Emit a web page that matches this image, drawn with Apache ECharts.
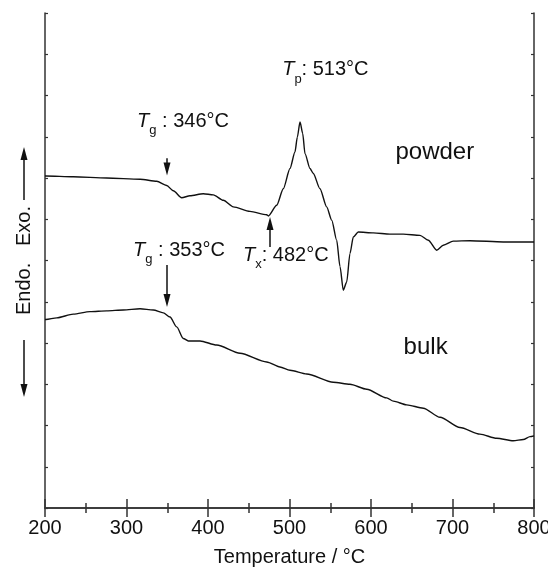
<!DOCTYPE html>
<html>
<head>
<meta charset="utf-8">
<script src="https://cdn.jsdelivr.net/npm/echarts@6/dist/echarts.min.js"></script>
<style>
html,body{margin:0;padding:0;background:#fff;}
#main{width:548px;height:570px;}
</style>
</head>
<body>
<div id="main"></div>
<script>
// ---- data ----
const xTicks = [200, 300, 400, 500, 600, 700, 800];
const powderT = [200, 201.2, 234.7, 275.7, 316.6, 337.1, 349.3, 357.4, 367.7, 377.9, 394.2, 406.5, 418.8, 431.0, 451.5, 472.0, 474.0, 484.3, 492.4, 500.6, 506.7, 509.6, 512.9, 516.2, 519.0, 525.2, 529.2, 537.4, 545.6, 551.8, 557.9, 562.0, 566.0, 570.2, 574.2, 578.3, 584.4, 602.8, 623.3, 639.6, 660.1, 670.3, 680.6, 688.7, 701.0, 721.5, 762.3, 800];
const powderV = [8.05, 8.05, 8.03, 8.00, 7.97, 7.92, 7.82, 7.69, 7.52, 7.57, 7.62, 7.59, 7.46, 7.30, 7.19, 7.11, 7.08, 7.34, 7.74, 8.23, 8.63, 8.99, 9.36, 9.08, 8.59, 8.23, 8.11, 7.74, 7.30, 6.98, 6.49, 5.85, 5.28, 5.48, 6.17, 6.57, 6.69, 6.67, 6.64, 6.64, 6.61, 6.49, 6.25, 6.37, 6.47, 6.48, 6.45, 6.45];
const bulkT = [200, 201.2, 214.4, 234.7, 255.2, 275.7, 296.1, 316.6, 332.9, 345.2, 353.4, 361.6, 369.7, 375.8, 390.2, 410.7, 439.3, 472.0, 488.3, 500.6, 521.1, 553.7, 574.2, 594.7, 619.3, 627.4, 643.8, 664.2, 684.7, 709.2, 733.7, 754.2, 774.6, 786.9, 795.1, 800];
const bulkV = [4.57, 4.57, 4.61, 4.70, 4.76, 4.78, 4.80, 4.83, 4.80, 4.73, 4.63, 4.39, 4.11, 4.05, 4.05, 3.95, 3.75, 3.54, 3.42, 3.34, 3.25, 3.05, 3.00, 2.88, 2.67, 2.59, 2.50, 2.42, 2.20, 1.95, 1.79, 1.69, 1.63, 1.66, 1.73, 1.75];

// annotation labels: [T, value, symbol, subscript, rest]
const tLabels = [
  [313.0, 9.375, 'T', 'g', ' : 346°C'],
  [491.0, 10.63, 'T', 'p', ': 513°C'],
  [442.9, 6.13, 'T', 'x', ': 482°C'],
  [308.0, 6.25, 'T', 'g', ' : 353°C']
];
const sampleLabels = [
  [630.0, 8.62, 'powder'],
  [640.0, 3.90, 'bulk']
];
// arrows: [T, startValue, endValue]
const arrows = [
  [349.7, 8.48, 8.22],
  [476.1, 6.33, 6.90],
  [349.7, 5.89, 5.03]
];

const FONT = 'Liberation Sans, Arial, sans-serif';
const INK = '#111';
const AX = '#333';

const chart = echarts.init(document.getElementById('main'), null, {renderer: 'canvas'});

const richT = {
  t: {fontFamily: FONT, fontSize: 20, fontStyle: 'italic', color: INK, lineHeight: 32},
  s: {fontFamily: FONT, fontSize: 13, color: INK, lineHeight: 14, verticalAlign: 'bottom'},
  r: {fontFamily: FONT, fontSize: 20, color: INK, lineHeight: 32}
};

const labelData = tLabels.map(l => ({
  value: [l[0], l[1]],
  label: {formatter: '{t|' + l[2] + '}{s|' + l[3] + '}{r|' + l[4] + '}', rich: richT}
})).concat(sampleLabels.map(l => ({
  value: [l[0], l[1]],
  label: {formatter: l[2], fontFamily: FONT, fontSize: 24, color: INK}
})));

const markLines = arrows.map(a => ([
  {coord: [a[0], a[1]], symbol: 'none'},
  {coord: [a[0], a[2]], symbol: 'triangle', symbolSize: [7, 13]}
]));

const axisLineStyle = {color: AX, width: 1.5};

chart.setOption({
  animation: false,
  grid: {left: 45, right: 14, top: 13, bottom: 62, containLabel: false, outerBoundsMode: 'none'},
  xAxis: [{
    type: 'value', min: xTicks[0], max: xTicks[xTicks.length - 1], interval: 100,
    position: 'bottom',
    axisLine: {show: true, lineStyle: axisLineStyle},
    axisTick: {show: true, inside: true, length: 9, lineStyle: {color: AX, width: 1.5}},
    minorTick: {show: true, splitNumber: 2, length: 5, lineStyle: {color: AX, width: 1.5}},
    splitLine: {show: false},
    axisLabel: {fontFamily: FONT, fontSize: 20, color: INK, margin: 10},
    name: 'Temperature / °C', nameLocation: 'middle', nameGap: 39,
    nameTextStyle: {fontFamily: FONT, fontSize: 20, color: INK}
  }, {
    type: 'value', min: xTicks[0], max: xTicks[xTicks.length - 1], interval: 100,
    position: 'top',
    axisLine: {show: true, lineStyle: axisLineStyle},
    axisTick: {show: true, inside: true, length: 9, lineStyle: {color: AX, width: 1.5}},
    minorTick: {show: true, splitNumber: 2, length: 5, lineStyle: {color: AX, width: 1.5}},
    splitLine: {show: false},
    axisLabel: {show: false}
  }],
  yAxis: [{
    type: 'value', min: 0, max: 12, interval: 1, position: 'left',
    axisLine: {show: true, lineStyle: axisLineStyle},
    axisTick: {show: true, inside: true, length: 3, lineStyle: {color: AX, width: 1.2}},
    splitLine: {show: false},
    axisLabel: {show: false},
    name: 'Endo.   Exo.', nameLocation: 'middle', nameGap: 11, nameRotate: 90,
    nameTextStyle: {fontFamily: FONT, fontSize: 20, color: INK}
  }, {
    type: 'value', min: 0, max: 12, interval: 1, position: 'right',
    axisLine: {show: true, lineStyle: axisLineStyle},
    axisTick: {show: true, inside: true, length: 3, lineStyle: {color: AX, width: 1.2}},
    splitLine: {show: false},
    axisLabel: {show: false}
  }],
  series: [{
    name: 'powder', type: 'line', xAxisIndex: 0, yAxisIndex: 0,
    data: powderT.map((t, i) => [t, powderV[i]]),
    showSymbol: false, smooth: 0.25, smoothMonotone: 'x',
    lineStyle: {color: INK, width: 1.4},
    markLine: {silent: true, symbol: ['none', 'triangle'], label: {show: false},
      lineStyle: {color: INK, width: 1.5, type: 'solid'},
      itemStyle: {color: INK},
      data: markLines}
  }, {
    name: 'bulk', type: 'line', xAxisIndex: 0, yAxisIndex: 0,
    data: bulkT.map((t, i) => [t, bulkV[i]]),
    showSymbol: false, smooth: 0.25, smoothMonotone: 'x',
    lineStyle: {color: INK, width: 1.4}
  }, {
    name: 'labels', type: 'scatter', xAxisIndex: 0, yAxisIndex: 0,
    data: labelData, symbolSize: 1, silent: true,
    itemStyle: {color: '#fff', opacity: 1},
    label: {show: true, position: 'inside', align: 'left', verticalAlign: 'middle',
      color: INK, opacity: 1, textBorderWidth: 0},
    emphasis: {disabled: true},
    labelLayout: {hideOverlap: false},
    z: 10
  }],
  graphic: [
    {type: 'line', shape: {x1: 24, y1: 200, x2: 24, y2: 158}, style: {stroke: INK, lineWidth: 1.5}},
    {type: 'polygon', shape: {points: [[24, 147], [20.5, 160], [27.5, 160]]}, style: {fill: INK}},
    {type: 'line', shape: {x1: 24, y1: 340, x2: 24, y2: 386}, style: {stroke: INK, lineWidth: 1.5}},
    {type: 'polygon', shape: {points: [[24, 397], [20.5, 384], [27.5, 384]]}, style: {fill: INK}}
  ]
});
</script>
</body>
</html>
